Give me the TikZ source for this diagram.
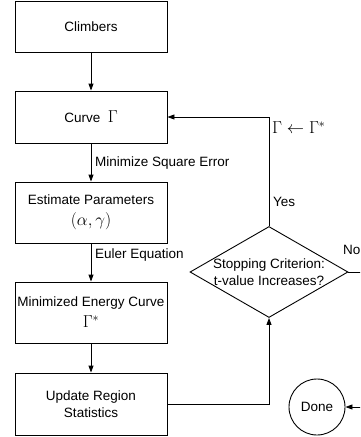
\documentclass[tikz,border=0pt]{standalone}
\usepackage{fontspec}
\setmainfont{Liberation Sans}
\usetikzlibrary{arrows.meta,shapes.geometric}
\begin{document}
\begin{tikzpicture}[x=1pt,y=-1pt,
  txt/.style={font=\fontsize{13.5}{17}\selectfont},
  box/.style={draw, line width=0.9pt, minimum width=152pt, align=center, inner sep=0pt, txt},
  arr/.style={-{Triangle[length=7pt,width=5pt]}, line width=0.9pt},
  ln/.style={line width=0.9pt},
  lbl/.style={anchor=west, inner sep=0pt, txt},
  mth/.style={font=\fontsize{17}{20}\selectfont}]
\useasboundingbox (0,0) rectangle (360,437);
\clip (0,0) rectangle (360,437);
\node[box, minimum height=51pt] (climb) at (91,26.5) {Climbers};
\node[box, minimum height=52pt] (curve) at (91,117) {Curve\ \ {\fontsize{17}{20}\selectfont$\Gamma$}};
\node[box, minimum height=61pt] (est) at (91,212.5) {Estimate Parameters\\[4pt] {\fontsize{17}{20}\selectfont$(\alpha,\gamma)$}};
\node[box, minimum height=61pt] (min) at (91,312.5) {Minimized Energy Curve\\[4pt] {\fontsize{17}{20}\selectfont$\Gamma^{*}$}};
\node[box, minimum height=62pt] (upd) at (91,404) {Update Region\\Statistics};
\node[draw, ln, diamond, aspect=1.74, minimum width=158pt, minimum height=91pt, inner sep=0pt] (dia) at (269,272) {};
\node[align=center, inner sep=0pt, txt] (diatxt) at (269,272) {Stopping Criterion:\\t-value Increases?};
\node[draw, ln, circle, minimum size=56pt, inner sep=0pt, txt] (done) at (317,407) {Done};
\coordinate (r1) at (375,272);
\coordinate (r2) at (375,407);
\draw[arr] (climb) -- (curve);
\draw[arr] (curve) -- (est);
\draw[arr] (est) -- (min);
\draw[arr] (min) -- (upd);
\draw[arr] (upd.east) -| (dia.south);
\draw[arr] (dia.north) |- (curve.east);
\draw[arr] (dia.east) -- (r1) -- (r2) -- (done.east);
\node[lbl] (l1) at (95,163) {Minimize Square Error};
\node[lbl] (l2) at (95,255) {Euler Equation};
\node[lbl] (l3) at (273,202) {Yes};
\node[lbl] (l4) at (343,250) {No};
\node[anchor=west, inner sep=0pt, mth] (l5) at (272,128) {$\Gamma\leftarrow\Gamma^{*}$};
\end{tikzpicture}
\end{document}
